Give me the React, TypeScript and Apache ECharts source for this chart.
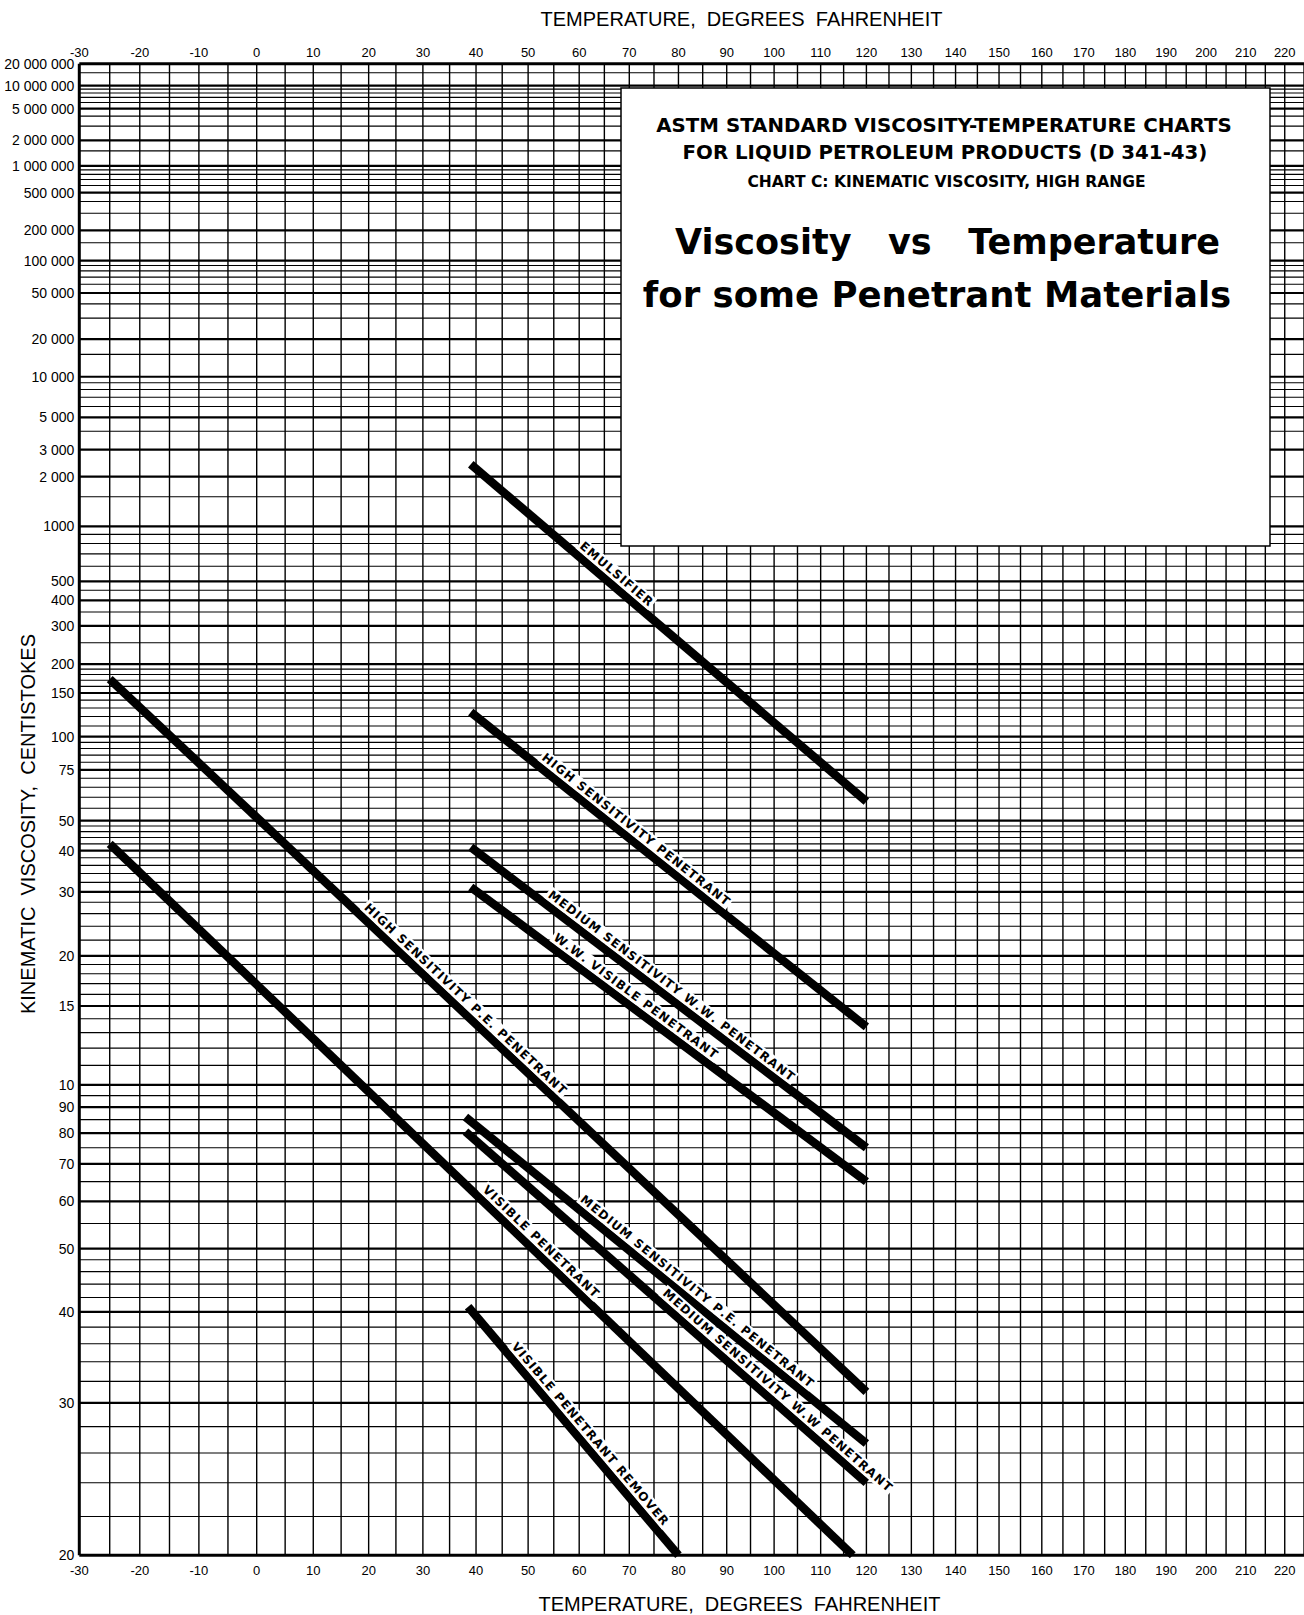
import React, { useEffect, useRef } from "react";
import * as echarts from "echarts";

// ---------- scales (ASTM D341-43: log T(Rankine) vs log log (v + 0.6)) ----------
const C_OFFSET = 0.6;
const vToY = (v: number) => Math.log10(Math.log10(v + C_OFFSET));
const tToX = (t: number) => Math.log10(t + 459.67);

const T_MIN = -30;
const T_MAX = 225;
const V_MIN = 2;
const V_MAX = 20000000;

// ---------- axis ticks ----------
const TEMP_LABELS = [-30, -20, -10, 0, 10, 20, 30, 40, 50, 60, 70, 80, 90, 100, 110, 120, 130, 140, 150, 160, 170, 180, 190, 200, 210, 220];
const TEMP_GRID = [-30, -25, -20, -15, -10, -5, 0, 5, 10, 15, 20, 25, 30, 35, 40, 45, 50, 55, 60, 65, 70, 75, 80, 85, 90, 95, 100, 105, 110, 115, 120, 125, 130, 135, 140, 145, 150, 155, 160, 165, 170, 175, 180, 185, 190, 195, 200, 205, 210, 215, 220, 225];
const VISC_LABEL_VALUES = [20000000, 10000000, 5000000, 2000000, 1000000, 500000, 200000, 100000, 50000, 20000, 10000, 5000, 3000, 2000, 1000, 500, 400, 300, 200, 150, 100, 75, 50, 40, 30, 20, 15, 10, 9, 8, 7, 6, 5, 4, 3, 2];
const VISC_LABEL_TEXTS = ["20 000 000", "10 000 000", "5 000 000", "2 000 000", "1 000 000", "500 000", "200 000", "100 000", "50 000", "20 000", "10 000", "5 000", "3 000", "2 000", "1000", "500", "400", "300", "200", "150", "100", "75", "50", "40", "30", "20", "15", "10", "90", "80", "70", "60", "50", "40", "30", "20"];
const VISC_MINOR_LINES = [15000000, 9000000, 8000000, 7000000, 6000000, 4000000, 3000000, 1500000, 900000, 800000, 700000, 600000, 400000, 300000, 150000, 90000, 80000, 70000, 60000, 40000, 30000, 15000, 9000, 8000, 7000, 6000, 4000, 1500, 900, 800, 700, 600, 450, 350, 250, 190, 180, 170, 160, 140, 130, 120, 110, 95, 90, 85, 80, 70, 65, 60, 55, 48, 46, 44, 42, 38, 36, 34, 32, 28, 26, 24, 22, 19, 18, 17, 16, 14, 13, 12, 11, 9.5, 8.5, 7.5, 6.5, 5.5, 4.8, 4.6, 4.4, 4.2, 3.8, 3.6, 3.4, 3.2, 2.8, 2.6, 2.4, 2.2];

// ---------- materials: [temperature F, kinematic viscosity cSt] ----------
const EMULSIFIER = [[39, 2400], [120, 58]];
const HIGH_SENS_PEN = [[39, 125], [120, 13.4]];
const MED_SENS_WW_PEN_A = [[39, 41], [120, 7.5]];
const WW_VISIBLE_PEN = [[39, 31], [120, 6.5]];
const HIGH_SENS_PE_PEN = [[-25, 172], [120, 3.1]];
const MED_SENS_PE_PEN = [[38, 8.6], [120, 2.67]];
const MED_SENS_WW_PEN_B = [[38, 8.05], [120, 2.4]];
const VISIBLE_PEN = [[-25, 42], [117, 2.0]];
const VISIBLE_PEN_REMOVER = [[38.5, 4.07], [80, 2.0]];

const MATERIAL_DATA = [EMULSIFIER, HIGH_SENS_PEN, MED_SENS_WW_PEN_A, WW_VISIBLE_PEN, HIGH_SENS_PE_PEN, MED_SENS_PE_PEN, MED_SENS_WW_PEN_B, VISIBLE_PEN, VISIBLE_PEN_REMOVER];
const MATERIAL_NAMES = ["EMULSIFIER", "HIGH SENSITIVITY PENETRANT", "MEDIUM SENSITIVITY W.W. PENETRANT", "W.W. VISIBLE PENETRANT", "HIGH SENSITIVITY P.E. PENETRANT", "MEDIUM SENSITIVITY P.E. PENETRANT", "MEDIUM SENSITIVITY W.W PENETRANT", "VISIBLE PENETRANT", "VISIBLE PENETRANT REMOVER"];
const LABEL_AT = [0.35, 0.4, 0.49, 0.4, 0.46, 0.56, 0.76, 0.57, 0.54];

const TICK_FONT = "'Liberation Sans', Arial, Helvetica, sans-serif";
const BOLD_FONT = "'DejaVu Sans', 'Liberation Sans', sans-serif";

const spaced = (s: string) => s.split("").join("\u200A");

export default function App() {
  const ref = useRef<HTMLDivElement>(null);

  useEffect(() => {
    if (!ref.current) return;
    const chart = echarts.init(ref.current, null, { renderer: "svg" });
    const xMin = tToX(T_MIN);
    const xMax = tToX(T_MAX);
    const yMin = vToY(V_MIN);
    const yMax = vToY(V_MAX);

    const vGridSeries = {
      type: "custom",
      silent: true,
      z: 1,
      data: TEMP_GRID.map((t) => [tToX(t), yMin, t]),
      renderItem: (params: any, api: any) => {
        const x = api.value(0);
        const t = api.value(2);
        const p1 = api.coord([x, yMin]);
        const p2 = api.coord([x, yMax]);
        return {
          type: "line",
          shape: { x1: p1[0], y1: p1[1], x2: p2[0], y2: p2[1] },
          style: { stroke: "#000", lineWidth: t === T_MIN ? 3 : 1.4 },
        };
      },
    };

    const hData: any[] = [];
    VISC_LABEL_VALUES.forEach((v) => hData.push([xMin, vToY(v), v === V_MIN || v === V_MAX ? 3 : 2.2]));
    VISC_MINOR_LINES.forEach((v) => hData.push([xMin, vToY(v), 1.1]));
    const hGridSeries = {
      type: "custom",
      silent: true,
      z: 1,
      data: hData,
      renderItem: (params: any, api: any) => {
        const y = api.value(1);
        const w = api.value(2);
        const p1 = api.coord([xMin, y]);
        const p2 = api.coord([xMax, y]);
        return {
          type: "line",
          shape: { x1: p1[0], y1: p1[1], x2: p2[0], y2: p2[1] },
          style: { stroke: "#000", lineWidth: w },
        };
      },
    };

    const xLabelSeries = {
      type: "custom",
      silent: true,
      z: 3,
      data: TEMP_LABELS.map((t) => [tToX(t), yMin, t]),
      renderItem: (params: any, api: any) => {
        const x = api.value(0);
        const t = api.value(2);
        const top = api.coord([x, yMax]);
        const bot = api.coord([x, yMin]);
        const st = (yy: number) => ({
          text: String(t),
          x: top[0],
          y: yy,
          fill: "#000",
          font: `13px ${TICK_FONT}`,
          align: "center",
          verticalAlign: "middle",
          textAlign: "center",
          textVerticalAlign: "middle",
        });
        return {
          type: "group",
          children: [
            { type: "text", style: st(top[1] - 11) },
            { type: "text", style: st(bot[1] + 15) },
          ],
        };
      },
    };

    const yLabelSeries = {
      type: "custom",
      silent: true,
      z: 3,
      data: VISC_LABEL_VALUES.map((v, i) => [xMin, vToY(v), i]),
      renderItem: (params: any, api: any) => {
        const y = api.value(1);
        const i = api.value(2);
        const p = api.coord([xMin, y]);
        return {
          type: "text",
          style: {
            text: VISC_LABEL_TEXTS[i],
            x: p[0] - 5,
            y: p[1],
            fill: "#000",
            font: `14px ${TICK_FONT}`,
            align: "right",
            verticalAlign: "middle",
            textAlign: "right",
            textVerticalAlign: "middle",
          },
        };
      },
    };

    const lineSeries = MATERIAL_DATA.map((d, i) => ({
      type: "line",
      name: MATERIAL_NAMES[i],
      silent: true,
      z: 5,
      showSymbol: false,
      symbol: "none",
      data: d.map((p) => [tToX(p[0]), vToY(p[1])]),
      lineStyle: { color: "#000", width: 8.5 },
    }));

    const materialLabelSeries = {
      type: "custom",
      silent: true,
      z: 8,
      data: MATERIAL_DATA.map((d, i) => [xMin, yMin, i]),
      renderItem: (params: any, api: any) => {
        const i = api.value(2);
        const d = MATERIAL_DATA[i];
        const a = api.coord([tToX(d[0][0]), vToY(d[0][1])]);
        const b = api.coord([tToX(d[1][0]), vToY(d[1][1])]);
        const f = LABEL_AT[i];
        const fx = a[0] + (b[0] - a[0]) * f;
        const fy = a[1] + (b[1] - a[1]) * f;
        const ang = Math.atan2(b[1] - a[1], b[0] - a[0]);
        const nx = Math.sin(ang);
        const ny = -Math.cos(ang);
        const off = 11;
        return {
          type: "text",
          x: fx + nx * off,
          y: fy + ny * off,
          rotation: -ang,
          style: {
            text: spaced(MATERIAL_NAMES[i]),
            x: 0,
            y: 0,
            fill: "#000",
            font: `bold 12px ${BOLD_FONT}`,
            align: "center",
            verticalAlign: "middle",
            textAlign: "center",
            textVerticalAlign: "middle",
            backgroundColor: "#fff",
            padding: [1, 2],
          },
        };
      },
    };

    const boxText = (text: string, x: number, y: number, font: string) => ({
      type: "text",
      z: 101,
      style: {
        text,
        x,
        y,
        fill: "#000",
        font,
        align: "center",
        verticalAlign: "middle",
        textAlign: "center",
        textVerticalAlign: "middle",
      },
    });

    const nb = "\u00A0";

    chart.setOption({
      animation: false,
      backgroundColor: "#fff",
      grid: { left: 79.3, right: 0, top: 63.8, bottom: 59.7, show: false },
      xAxis: { type: "value", min: xMin, max: xMax, show: false },
      yAxis: { type: "value", min: yMin, max: yMax, show: false },
      series: [vGridSeries, hGridSeries, xLabelSeries, yLabelSeries, ...lineSeries, materialLabelSeries],
      graphic: [
        {
          type: "rect",
          z: 100,
          shape: { x: 621, y: 88, width: 649, height: 458 },
          style: { fill: "#fff", stroke: "#000", lineWidth: 1.5 },
        },
        boxText("ASTM STANDARD VISCOSITY-TEMPERATURE CHARTS", 944, 125, `bold 19.8px ${BOLD_FONT}`),
        boxText("FOR LIQUID PETROLEUM PRODUCTS (D 341-43)", 945, 152.5, `bold 19.8px ${BOLD_FONT}`),
        boxText("CHART C: KINEMATIC VISCOSITY, HIGH RANGE", 946.5, 182, `bold 15.5px ${BOLD_FONT}`),
        boxText(`Viscosity${nb}${nb}${nb}vs${nb}${nb}${nb}Temperature`, 947.5, 242, `bold 35px ${BOLD_FONT}`),
        boxText("for some Penetrant Materials", 937, 294.5, `bold 35.5px ${BOLD_FONT}`),
        {
          type: "text",
          z: 101,
          style: {
            text: `TEMPERATURE,${nb}${nb}DEGREES${nb}${nb}FAHRENHEIT`,
            x: 741.5,
            y: 18.5,
            fill: "#000",
            font: `20px ${TICK_FONT}`,
            align: "center",
            verticalAlign: "middle",
            textAlign: "center",
            textVerticalAlign: "middle",
          },
        },
        {
          type: "text",
          z: 101,
          style: {
            text: `TEMPERATURE,${nb}${nb}DEGREES${nb}${nb}FAHRENHEIT`,
            x: 739.5,
            y: 1603.5,
            fill: "#000",
            font: `20px ${TICK_FONT}`,
            align: "center",
            verticalAlign: "middle",
            textAlign: "center",
            textVerticalAlign: "middle",
          },
        },
        {
          type: "text",
          z: 101,
          x: 28,
          y: 824,
          rotation: Math.PI / 2,
          style: {
            text: `KINEMATIC${nb}${nb}VISCOSITY,${nb}${nb}CENTISTOKES`,
            x: 0,
            y: 0,
            fill: "#000",
            font: `20px ${TICK_FONT}`,
            align: "center",
            verticalAlign: "middle",
            textAlign: "center",
            textVerticalAlign: "middle",
          },
        },
      ],
    });

    return () => chart.dispose();
  }, []);

  return (
    <div
      ref={ref}
      style={{ position: "absolute", left: 0, top: 0, width: 1304, height: 1615, background: "#fff" }}
    />
  );
}
